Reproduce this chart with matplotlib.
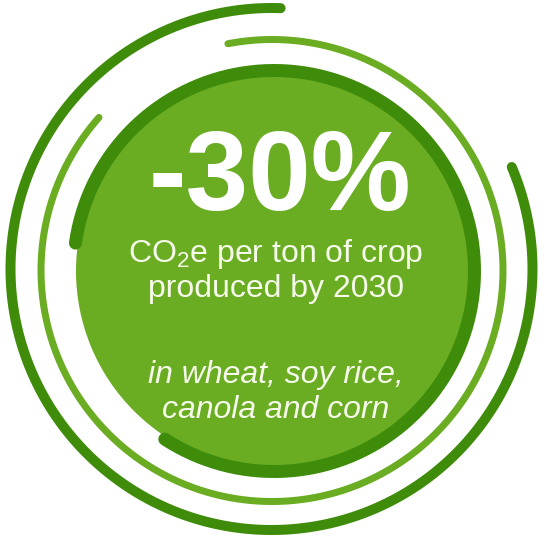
import matplotlib.pyplot as plt
import numpy as np

# content
headline = '-30%'
body_lines = [r'CO$_{\mathregular{2}}$e per ton of crop', 'produced by 2030']
note_lines = ['in wheat, soy rice,', 'canola and corn']

# ring arcs: start / end angle in degrees (counter-clockwise, 0 = east)
ring_names = ['outer', 'middle', 'rim']
ring_start_deg = [88, 138.5, 237]
ring_end_deg = [383, 461, 532]

DARK = '#3f8c0b'
LIGHT = '#6aad23'
TEXT = '#f6faea'
PX = 0.72  # points per pixel at dpi 100

plt.rcParams['font.family'] = ['Liberation Sans', 'DejaVu Sans']
plt.rcParams['mathtext.fontset'] = 'custom'
plt.rcParams['mathtext.rm'] = 'Liberation Sans'


def draw_arc(ax, cx, cy, r, a0, a1, width_px, color):
    t = np.radians(np.linspace(a0, a1, 400))
    ax.plot(cx + r * np.cos(t), cy + r * np.sin(t), color=color,
            lw=width_px * PX, solid_capstyle='round')


fig = plt.figure(figsize=(5.46, 5.40), dpi=100)
ax = fig.add_axes([0, 0, 1, 1])
ax.set_xlim(0, 546)
ax.set_ylim(0, 540)
ax.axis('off')

# filled disc
ax.add_patch(plt.Circle((274, 269), 198, color=LIGHT, lw=0))

ring_geom = {'outer': (271.5, 271, 261, 10, DARK),
             'middle': (272, 269.5, 231, 7, LIGHT),
             'rim': (274, 269, 200.5, 13, DARK)}
for name, a0, a1 in zip(ring_names, ring_start_deg, ring_end_deg):
    cx, cy, r, w, c = ring_geom[name]
    draw_arc(ax, cx, cy, r, a0, a1, w, c)

ax.text(280, 330, headline, color='white', fontsize=81, fontweight='bold',
        ha='center', va='baseline')
for txt, y in zip(body_lines, [278, 243]):
    ax.text(276, y, txt, color=TEXT, fontsize=23, ha='center', va='baseline')
for txt, y in zip(note_lines, [157, 122]):
    ax.text(276, y, txt, color=TEXT, fontsize=23, style='italic',
            ha='center', va='baseline')

fig.savefig('out.png', dpi=100)
